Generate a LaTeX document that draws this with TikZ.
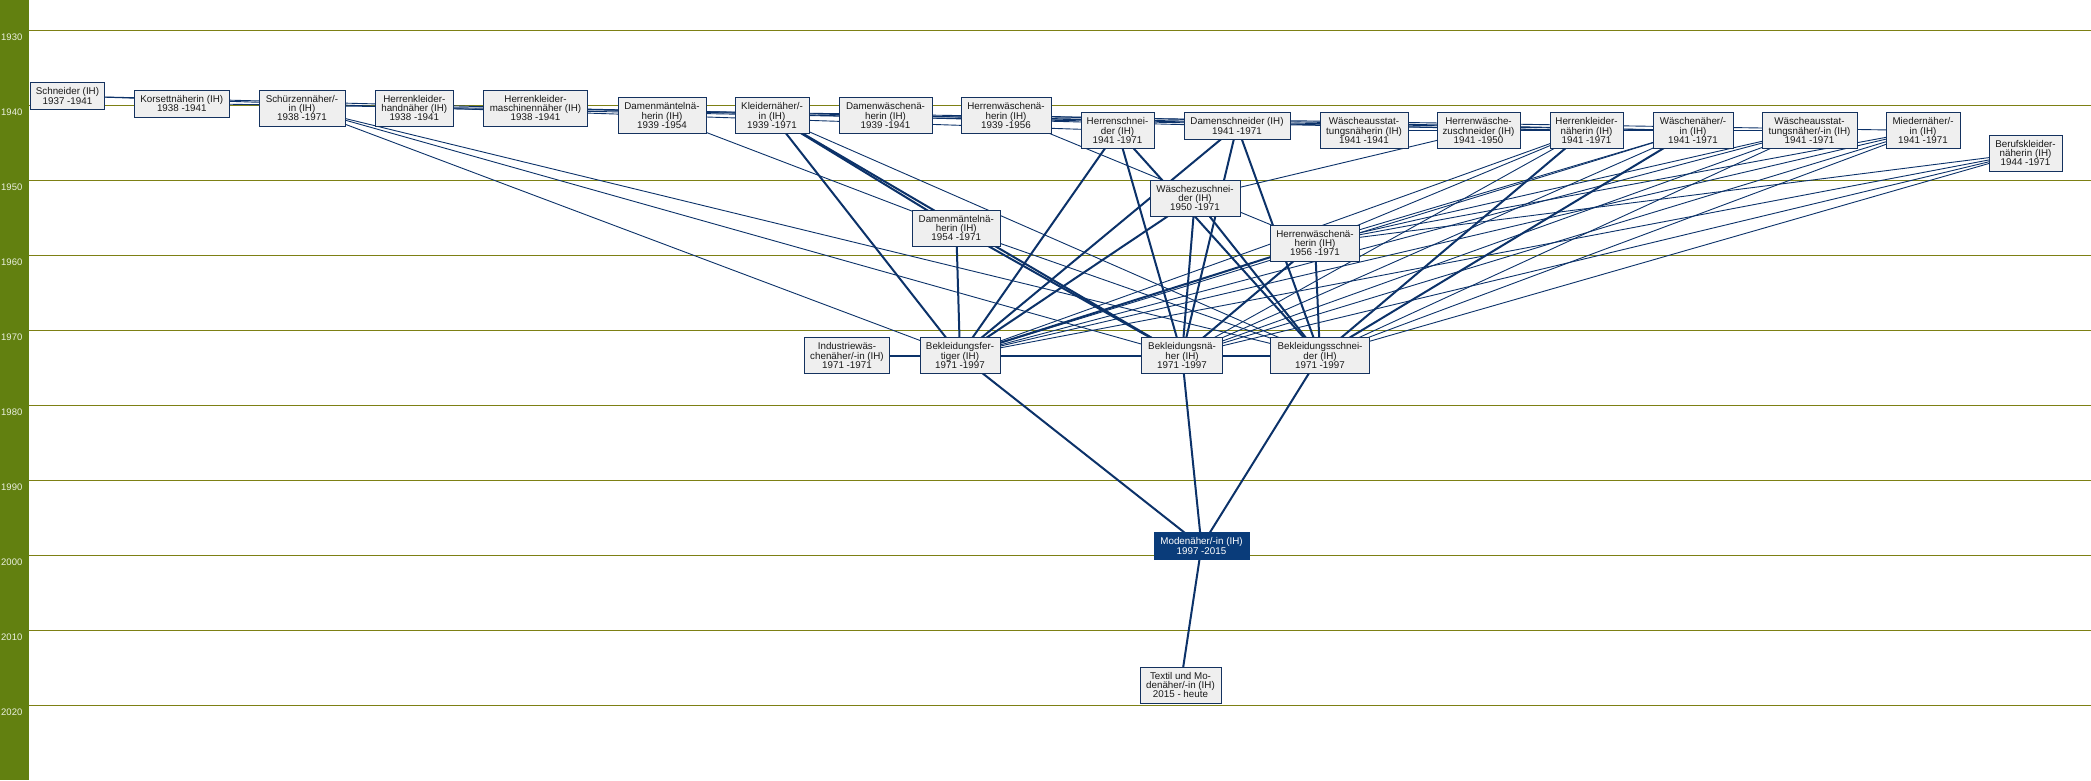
\documentclass[tikz,border=0pt]{standalone}
\usepackage{fontspec}
\setmainfont{Liberation Sans}
\definecolor{barg}{RGB}{98,128,16}
\definecolor{yline}{RGB}{125,128,20}
\definecolor{edgec}{RGB}{12,50,105}
\definecolor{bxfill}{RGB}{239,239,239}
\definecolor{bxdraw}{RGB}{20,50,95}
\definecolor{modfill}{RGB}{10,60,122}
\definecolor{ylab}{RGB}{235,240,225}
\pgfdeclarelayer{bglayer}
\pgfdeclarelayer{edgelayer}
\pgfsetlayers{bglayer,edgelayer,main}
\tikzset{
  bx/.style={draw=bxdraw, line width=0.9pt, fill=bxfill, inner sep=0pt, align=center,
    font=\fontsize{9.8}{9.4}\selectfont, text=black!90},
  modbx/.style={bx, fill=modfill, draw=modfill, text=white},
  ln/.style={draw=edgec, line width=0.9pt},
  lnb/.style={draw=edgec, line width=2pt},
  yearline/.style={draw=yline, line width=1pt},
  yearlab/.style={text=ylab, font=\fontsize{9.5}{10}\selectfont, anchor=west, inner sep=0pt}
}
\begin{document}
\begin{tikzpicture}[x=1pt,y=-1pt]
\useasboundingbox (0,0) rectangle (2091,780);
\begin{pgfonlayer}{bglayer}
  \fill[white] (0,0) rectangle (2091,780);
  \fill[barg] (0,0) rectangle (29,780);
  \foreach \k/\yr in {0/1930,1/1940,2/1950,3/1960,4/1970,5/1980,6/1990,7/2000,8/2010,9/2020}{
    \draw[yearline] (29,30+75*\k) -- (2091,30+75*\k);
    \node[yearlab] (yl\k) at (1,37+75*\k) {\yr};
  }
\end{pgfonlayer}

% nodes
\node[bx,minimum width=74pt,minimum height=27pt] (s1) at (67.5,96) {Schneider (IH)\\1937 -1941};
\node[bx,minimum width=95.5pt,minimum height=27pt] (s2) at (181.8,103.5) {Korsettnäherin (IH)\\1938 -1941};
\node[bx,minimum width=86pt,minimum height=36pt] (s3) at (302,108) {Schürzennäher/-\\in (IH)\\1938 -1971};
\node[bx,minimum width=78.6pt,minimum height=36pt] (s4) at (414.3,108) {Herrenkleider-\\handnäher (IH)\\1938 -1941};
\node[bx,minimum width=104pt,minimum height=36pt] (s5) at (535.5,108) {Herrenkleider-\\maschinennäher (IH)\\1938 -1941};
\node[bx,minimum width=88pt,minimum height=36pt] (s6) at (662,115.5) {Damenmäntelnä-\\herin (IH)\\1939 -1954};
\node[bx,minimum width=74pt,minimum height=36pt] (s7) at (772,115.5) {Kleidernäher/-\\in (IH)\\1939 -1971};
\node[bx,minimum width=93pt,minimum height=36pt] (s8) at (885.5,115.5) {Damenwäschenä-\\herin (IH)\\1939 -1941};
\node[bx,minimum width=90pt,minimum height=36pt] (s9) at (1006,115.5) {Herrenwäschenä-\\herin (IH)\\1939 -1956};
\node[bx,minimum width=73pt,minimum height=36pt] (s10) at (1117.5,130.5) {Herrenschnei-\\der (IH)\\1941 -1971};
\node[bx,minimum width=106pt,minimum height=27pt] (s11) at (1237,126) {Damenschneider (IH)\\1941 -1971};
\node[bx,minimum width=88pt,minimum height=36pt] (s12) at (1364,130.5) {Wäscheausstat-\\tungsnäherin (IH)\\1941 -1941};
\node[bx,minimum width=83pt,minimum height=36pt] (s13) at (1478.5,130.5) {Herrenwäsche-\\zuschneider (IH)\\1941 -1950};
\node[bx,minimum width=73pt,minimum height=36pt] (s14) at (1586.5,130.5) {Herrenkleider-\\näherin (IH)\\1941 -1971};
\node[bx,minimum width=80pt,minimum height=36pt] (s15) at (1693,130.5) {Wäschenäher/-\\in (IH)\\1941 -1971};
\node[bx,minimum width=95pt,minimum height=36pt] (s16) at (1809.5,130.5) {Wäscheausstat-\\tungsnäher/-in (IH)\\1941 -1971};
\node[bx,minimum width=74pt,minimum height=36pt] (s17) at (1923,130.5) {Miedernäher/-\\in (IH)\\1941 -1971};
\node[bx,minimum width=73pt,minimum height=36pt] (s18) at (2025.5,153) {Berufskleider-\\näherin (IH)\\1944 -1971};
\node[bx,minimum width=90pt,minimum height=36pt] (m1) at (1195,198) {Wäschezuschnei-\\der (IH)\\1950 -1971};
\node[bx,minimum width=87.5pt,minimum height=36pt] (m2) at (956.25,228) {Damenmäntelnä-\\herin (IH)\\1954 -1971};
\node[bx,minimum width=89.5pt,minimum height=36pt] (m3) at (1315,243) {Herrenwäschenä-\\herin (IH)\\1956 -1971};
\node[bx,minimum width=85.5pt,minimum height=36pt] (b0) at (847,355.5) {Industriewäs-\\chenäher/-in (IH)\\1971 -1971};
\node[bx,minimum width=80pt,minimum height=36pt] (b1) at (960,355.5) {Bekleidungsfer-\\tiger (IH)\\1971 -1997};
\node[bx,minimum width=80.5pt,minimum height=36pt] (b2) at (1182,355.5) {Bekleidungsnä-\\her (IH)\\1971 -1997};
\node[bx,minimum width=98.5pt,minimum height=36pt] (b3) at (1320,355.5) {Bekleidungsschnei-\\der (IH)\\1971 -1997};
\node[modbx,minimum width=95pt,minimum height=27.5pt] (mod) at (1201.5,546) {Modenäher/-in (IH)\\1997 -2015};
\node[bx,minimum width=81pt,minimum height=36pt] (tx) at (1180.5,685) {Textil und Mo-\\denäher/-in (IH)\\2015 - heute};

\begin{pgfonlayer}{edgelayer}
  \foreach \a/\b in {s1/s10,s1/s11,s2/s17,s4/s14,s5/s14,s8/s15,s9/s15,s12/s16,
      s3/b1,s3/b2,s3/b3,s6/m2,s7/b3,s9/m3,s13/m1,m2/b3,
      s14/b1,s14/b2,s14/m3,s15/b1,s15/b2,s15/m3,
      s16/b1,s16/b2,s16/b3,s16/m3,s17/b1,s17/b2,s17/b3,s17/m3,
      s18/b1,s18/b2,s18/b3,s18/m3}
    \draw[ln] (\a.center) -- (\b.center);
  \foreach \a/\b in {s7/b1,s7/m2,s7/b2,s10/b1,s10/b2,s10/b3,s11/b1,s11/b2,s11/b3,
      m1/b1,m1/b2,m1/b3,m2/b1,m2/b2,m3/b1,m3/b2,m3/b3,s14/b3,s15/b3,
      b0/b1,b1/b2,b2/b3,b1/mod,b2/mod,b3/mod,mod/tx}
    \draw[lnb] (\a.center) -- (\b.center);
\end{pgfonlayer}
\end{tikzpicture}
\end{document}
